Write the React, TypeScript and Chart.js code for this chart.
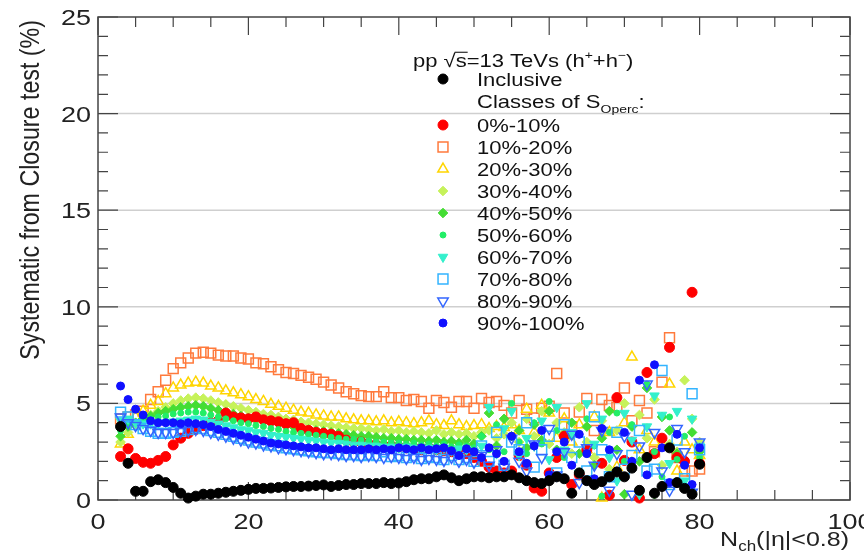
import React, { useEffect, useRef } from "react";
import { Chart, registerables } from "chart.js";

Chart.register(...registerables);

const W = 864;
const H = 554;
const FONT = '"Liberation Sans", Arial, Helvetica, sans-serif';
const SQ = 0.83; // vertical squash of text, as in the reference

// N_ch values (x)
const nch = [
  3, 4, 5, 6, 7, 8, 9, 10, 11, 12,
  13, 14, 15, 16, 17, 18, 19, 20, 21, 22,
  23, 24, 25, 26, 27, 28, 29, 30, 31, 32,
  33, 34, 35, 36, 37, 38, 39, 40, 41, 42,
  43, 44, 45, 46, 47, 48, 49, 50, 51, 52,
  53, 54, 55, 56, 57, 58, 59, 60, 61, 62,
  63, 64, 65, 66, 67, 68, 69, 70, 71, 72,
  73, 74, 75, 76, 77, 78, 79, 80,
];

const inclusive = [
  3.8, 1.9, 0.45, 0.45, 0.95, 1.05, 0.9, 0.65, 0.35, 0.1,
  0.2, 0.3, 0.3, 0.35, 0.4, 0.45, 0.5, 0.55, 0.6, 0.6,
  0.62, 0.65, 0.68, 0.7, 0.7, 0.72, 0.75, 0.78, 0.7, 0.75,
  0.8, 0.8, 0.85, 0.85, 0.85, 0.9, 0.85, 0.88, 0.95, 1.05,
  1.1, 1.1, 1.2, 1.3, 1.15, 1.0, 1.1, 1.2, 1.2, 1.15,
  1.2, 1.2, 1.3, 1.15, 1.0, 0.9, 0.85, 1.0, 1.2, 1.1,
  0.35, 1.4, 1.0, 0.8, 0.95, 1.2, 1.45, 1.2, 1.65, 0.5,
  2.2, 0.35, 0.7, 2.7, 0.9, 0.6, 0.3, 1.85,
];

const cls0to10 = [
  2.25, 2.65, 2.15, 1.95, 1.9, 2.05, 2.25, 2.85, 3.2, 3.45,
  3.65, 3.85, 4.0, 4.1, 4.5, 4.3, 4.25, 4.2, 4.3, 4.15,
  4.1, 4.05, 3.95, 4.0, 3.7, 3.6, 3.5, 3.45, 3.4, 3.3,
  3.1, 3.0, 3.0, 2.9, 2.85, 2.8, 2.8, 2.75, 2.7, 2.7,
  2.6, 2.7, 2.6, 2.55, 2.5, 2.6, 2.4, 2.2, 2.0, 1.7,
  1.5, 1.4, 1.5, 2.3, 1.8, 0.62, 0.45, 1.4, 2.2, 3.3,
  0.8, 1.3, 2.6, 0.9, 1.9, 0.25, 5.3, 2.05, 3.0, 0.1,
  6.6, 2.4, 3.2, 7.9, 2.2, 2.0, 10.75, 1.9,
];

const cls10to20 = [
  4.2, 4.3, 4.4, 4.6, 5.2, 5.6, 6.2, 6.8, 7.1, 7.35,
  7.6, 7.65, 7.6, 7.5, 7.45, 7.45, 7.35, 7.3, 7.1, 7.05,
  6.9, 6.75, 6.6, 6.55, 6.45, 6.35, 6.25, 6.1, 5.95, 5.8,
  5.6, 5.5, 5.4, 5.35, 5.35, 5.6, 5.3, 5.3, 5.15, 5.2,
  5.1, 4.75, 5.15, 5.05, 4.8, 5.1, 5.1, 4.75, 5.25, 5.05,
  5.1, 4.9, 4.5, 5.15, 4.7, 4.25, 4.75, 4.85, 6.55, 4.5,
  3.8, 4.55, 5.25, 3.6, 5.2, 4.9, 4.8, 5.8, 4.1, 5.15,
  4.5, 2.5, 6.1, 8.4, 2.2, 1.5, 1.5, 1.6,
];

const cls20to30 = [
  2.9, 3.4, 4.3, 4.6, 4.9, 5.1, 5.5, 5.8, 5.95, 6.05,
  6.1, 6.05, 5.9, 5.8, 5.65, 5.55, 5.45, 5.35, 5.2, 5.1,
  4.95, 4.85, 4.75, 4.65, 4.55, 4.5, 4.4, 4.35, 4.3, 4.3,
  4.2, 4.15, 4.1, 4.1, 4.05, 4.1, 4.0, 4.05, 4.0, 3.95,
  4.0, 4.1, 3.9, 3.85, 4.1, 3.9, 3.8, 3.85, 3.9, 3.7,
  3.8, 3.75, 3.9, 3.6, 4.7, 3.5, 4.9, 4.5, 3.2, 4.2,
  3.0, 3.9, 2.6, 4.3, 0.1, 3.5, 1.7, 4.0, 7.4, 2.6,
  3.6, 3.0, 2.9, 6.0, 1.5, 3.0, 2.6, 2.3,
];

const cls30to40 = [
  3.0, 3.5, 3.9, 4.2, 4.4, 4.6, 4.8, 5.0, 5.15, 5.25,
  5.3, 5.25, 5.15, 5.05, 4.95, 4.85, 4.75, 4.65, 4.55, 4.45,
  4.4, 4.3, 4.2, 4.15, 4.05, 4.0, 3.95, 3.9, 3.85, 3.8,
  3.75, 3.7, 3.7, 3.65, 3.6, 3.65, 3.55, 3.6, 3.5, 3.55,
  3.5, 3.45, 3.6, 3.4, 3.5, 3.4, 3.45, 3.3, 3.5, 3.6,
  3.2, 3.4, 4.0, 3.0, 4.2, 3.3, 4.6, 2.9, 4.0, 3.5,
  2.4, 4.8, 3.0, 2.2, 4.1, 1.6, 3.6, 5.0, 2.0, 4.4,
  3.2, 5.2, 1.8, 2.9, 2.5, 6.2, 4.2, 3.0,
];

const cls40to50 = [
  3.3, 3.8, 4.0, 4.2, 4.35, 4.5, 4.6, 4.7, 4.8, 4.85,
  4.9, 4.85, 4.75, 4.65, 4.55, 4.45, 4.35, 4.25, 4.15, 4.1,
  4.0, 3.95, 3.85, 3.8, 3.7, 3.65, 3.6, 3.55, 3.5, 3.45,
  3.4, 3.35, 3.3, 3.3, 3.25, 3.2, 3.2, 3.15, 3.15, 3.1,
  3.1, 3.05, 3.1, 3.0, 3.05, 2.95, 3.1, 2.9, 3.3, 4.5,
  2.8, 4.2, 3.3, 3.6, 2.7, 3.9, 3.1, 4.6, 2.6, 3.4,
  4.0, 2.4, 3.8, 1.8, 3.2, 4.6, 2.6, 0.3, 3.8, 2.0,
  5.8, 0.3, 4.3, 3.6, 2.4, 0.7, 3.5, 2.5,
];

const cls50to60 = [
  3.6, 3.9, 4.0, 4.1, 4.2, 4.3, 4.35, 4.45, 4.5, 4.55,
  4.55, 4.5, 4.4, 4.3, 4.2, 4.1, 4.0, 3.95, 3.85, 3.8,
  3.7, 3.65, 3.55, 3.5, 3.45, 3.4, 3.35, 3.3, 3.25, 3.2,
  3.15, 3.15, 3.1, 3.05, 3.0, 3.0, 2.95, 2.95, 2.9, 2.95,
  2.85, 2.9, 2.8, 2.9, 2.75, 2.85, 2.8, 2.7, 3.3, 2.6,
  3.9, 2.5, 5.0, 3.0, 2.4, 4.0, 2.9, 5.1, 3.6, 2.2,
  3.3, 1.5, 4.2, 2.8, 0.2, 3.5, 4.5, 2.0, 3.9, 0.3,
  6.0, 2.5, 1.2, 4.3, 2.1, 3.3, 0.5, 2.2,
];

const cls60to70 = [
  4.1, 4.2, 4.0, 3.95, 3.95, 3.95, 4.0, 4.05, 4.1, 4.15,
  4.2, 4.15, 4.05, 3.95, 3.85, 3.75, 3.65, 3.6, 3.5, 3.45,
  3.35, 3.3, 3.25, 3.2, 3.15, 3.1, 3.05, 3.0, 2.95, 2.95,
  2.9, 2.85, 2.85, 2.8, 2.8, 2.75, 2.75, 2.7, 2.75, 2.7,
  2.65, 2.7, 2.6, 2.7, 2.55, 2.65, 2.6, 2.5, 2.8, 4.8,
  2.4, 3.7, 4.6, 2.3, 3.2, 2.8, 4.1, 2.1, 4.8, 2.6,
  3.5, 1.4, 5.0, 2.9, 4.2, 2.2, 1.0, 4.5, 3.1, 0.3,
  3.8, 5.4, 4.4, 1.9, 4.6, 1.0, 4.2, 2.8,
];

const cls70to80 = [
  4.55, 4.3, 3.9, 3.7, 3.55, 3.45, 3.45, 3.5, 3.55, 3.65,
  3.75, 3.7, 3.6, 3.5, 3.4, 3.3, 3.2, 3.1, 3.0, 2.95,
  2.85, 2.8, 2.7, 2.65, 2.6, 2.55, 2.5, 2.45, 2.45, 2.4,
  2.35, 2.35, 2.3, 2.35, 2.3, 2.5, 2.25, 2.3, 2.2, 2.3,
  2.15, 2.25, 2.2, 2.1, 2.3, 2.1, 2.2, 2.0, 2.8, 2.0,
  3.5, 1.8, 3.0, 2.6, 4.0, 1.7, 2.6, 3.3, 1.4, 3.9,
  2.2, 3.0, 1.5, 4.3, 2.6, 1.2, 3.5, 1.6, 2.3, 3.6,
  1.5, 1.6, 6.7, 0.8, 3.1, 1.1, 5.5, 2.6,
];

const cls80to90 = [
  4.3, 4.0, 3.85, 3.7, 3.6, 3.5, 3.5, 3.5, 3.55, 3.6,
  3.65, 3.6, 3.5, 3.4, 3.3, 3.2, 3.1, 3.0, 2.95, 2.85,
  2.8, 2.7, 2.65, 2.6, 2.55, 2.5, 2.45, 2.4, 2.4, 2.35,
  2.3, 2.3, 2.25, 2.3, 2.25, 2.2, 2.25, 2.2, 2.15, 2.2,
  2.1, 2.15, 2.1, 2.05, 2.2, 2.0, 2.1, 1.95, 2.3, 1.8,
  2.6, 1.7, 3.2, 2.0, 1.5, 2.9, 2.2, 3.7, 1.3, 2.5,
  3.4, 0.9, 2.7, 1.8, 3.6, 0.5, 2.4, 3.3, 0.3, 2.8,
  6.0, 3.5, 1.5, 0.5, 3.7, 2.5, 0.4, 3.0,
];

const cls90to100 = [
  5.9, 5.2, 4.7, 4.4, 4.1, 4.0, 4.0, 4.0, 3.95, 4.0,
  3.95, 3.9, 3.8, 3.65, 3.55, 3.45, 3.35, 3.25, 3.15, 3.05,
  2.95, 2.9, 2.85, 2.8, 2.75, 2.7, 2.7, 2.65, 2.6, 2.65,
  2.6, 2.6, 2.6, 2.65, 2.6, 2.65, 2.6, 2.7, 2.65, 2.6,
  2.7, 2.6, 2.65, 2.7, 2.55, 2.3, 2.65, 2.5, 2.2, 2.7,
  2.4, 2.0, 3.3, 2.5, 1.9, 2.8, 3.6, 1.3, 2.5, 3.0,
  1.8, 3.4, 2.4, 1.1, 3.7, 2.6, 1.5, 3.5, 2.0, 6.2,
  1.3, 7.0, 2.7, 0.9, 3.4, 1.8, 0.8, 2.7,
];

const xTicks = [0, 20, 40, 60, 80, 100];
const yTicks = [0, 5, 10, 15, 20, 25];
const yGrid = [5, 10, 15, 20];

type Series = {
  label: string;
  values: number[];
  color: string;
  style: "circle" | "rect" | "rectRot" | "triangle";
  filled: boolean;
  radius: number;
  rotation: number;
  layer: number; // smaller = drawn on top
};

const SERIES: Series[] = [
  { label: "Inclusive", values: inclusive, color: "#000000", style: "circle", filled: true, radius: 5, rotation: 0, layer: 0 },
  { label: "0%-10%", values: cls0to10, color: "#ff0000", style: "circle", filled: true, radius: 5, rotation: 0, layer: 6.5 },
  { label: "10%-20%", values: cls10to20, color: "#ff7a3c", style: "rect", filled: false, radius: 7, rotation: 0, layer: 10 },
  { label: "20%-30%", values: cls20to30, color: "#ffd500", style: "triangle", filled: false, radius: 6, rotation: 0, layer: 9 },
  { label: "30%-40%", values: cls30to40, color: "#c6f25a", style: "rectRot", filled: true, radius: 4.8, rotation: 0, layer: 8 },
  { label: "40%-50%", values: cls40to50, color: "#44dd33", style: "rectRot", filled: true, radius: 4.8, rotation: 0, layer: 7 },
  { label: "50%-60%", values: cls50to60, color: "#22ee66", style: "circle", filled: true, radius: 3, rotation: 0, layer: 6 },
  { label: "60%-70%", values: cls60to70, color: "#33f0cc", style: "triangle", filled: true, radius: 5.5, rotation: 180, layer: 5 },
  { label: "70%-80%", values: cls70to80, color: "#33b4ff", style: "rect", filled: false, radius: 7, rotation: 0, layer: 4 },
  { label: "80%-90%", values: cls80to90, color: "#3366ff", style: "triangle", filled: false, radius: 6, rotation: 180, layer: 3 },
  { label: "90%-100%", values: cls90to100, color: "#1010ff", style: "circle", filled: true, radius: 4, rotation: 0, layer: 2 },
];

type Piece = { t: string; size: number; dy?: number; over?: boolean };

function drawRich(ctx: CanvasRenderingContext2D, pieces: Piece[], x: number, y: number, align: "left" | "right" | "center", color = "#111") {
  ctx.save();
  ctx.translate(x, y);
  ctx.scale(1, SQ);
  ctx.textBaseline = "alphabetic";
  ctx.textAlign = "left";
  ctx.fillStyle = color;
  ctx.strokeStyle = color;
  const widths = pieces.map((p) => {
    ctx.font = `${p.size}px ${FONT}`;
    return ctx.measureText(p.t).width;
  });
  const total = widths.reduce((a, b) => a + b, 0);
  let cx = align === "right" ? -total : align === "center" ? -total / 2 : 0;
  pieces.forEach((p, i) => {
    ctx.font = `${p.size}px ${FONT}`;
    const dy = (p.dy || 0) / SQ;
    ctx.fillText(p.t, cx, dy);
    if (p.over) {
      ctx.lineWidth = 1.3;
      ctx.beginPath();
      ctx.moveTo(cx - 1, dy - p.size * 0.78);
      ctx.lineTo(cx + widths[i] + 1, dy - p.size * 0.78);
      ctx.stroke();
    }
    cx += widths[i];
  });
  ctx.restore();
}

function drawMarker(ctx: CanvasRenderingContext2D, s: Series, x: number, y: number) {
  const r = s.radius;
  ctx.save();
  ctx.beginPath();
  if (s.style === "circle") {
    ctx.arc(x, y, r, 0, Math.PI * 2);
  } else if (s.style === "rect") {
    const h = r * Math.SQRT1_2;
    ctx.rect(x - h, y - h, 2 * h, 2 * h);
  } else if (s.style === "rectRot") {
    ctx.moveTo(x, y - r);
    ctx.lineTo(x + r, y);
    ctx.lineTo(x, y + r);
    ctx.lineTo(x - r, y);
    ctx.closePath();
  } else {
    let a = (s.rotation * Math.PI) / 180;
    for (let k = 0; k < 3; k++) {
      const px = x + Math.sin(a) * r;
      const py = y - Math.cos(a) * r;
      if (k === 0) ctx.moveTo(px, py);
      else ctx.lineTo(px, py);
      a += (2 * Math.PI) / 3;
    }
    ctx.closePath();
  }
  if (s.filled) {
    ctx.fillStyle = s.color;
    ctx.fill();
  }
  ctx.strokeStyle = s.color;
  ctx.lineWidth = s.filled ? 1 : 1.5;
  ctx.stroke();
  ctx.restore();
}

const framePlugin = {
  id: "rootFrame",
  beforeDraw(chart: any) {
    const ctx = chart.ctx as CanvasRenderingContext2D;
    ctx.save();
    ctx.fillStyle = "#ffffff";
    ctx.fillRect(0, 0, chart.width, chart.height);
    ctx.restore();
  },
  beforeDatasetsDraw(chart: any) {
    const ctx = chart.ctx as CanvasRenderingContext2D;
    const xs = chart.scales.x;
    const ys = chart.scales.y;
    const { left, right, top, bottom } = chart.chartArea;
    ctx.save();
    // grid lines
    ctx.strokeStyle = "#cfcfcf";
    ctx.lineWidth = 1.5;
    yGrid.forEach((v) => {
      const py = ys.getPixelForValue(v);
      ctx.beginPath();
      ctx.moveTo(left, py);
      ctx.lineTo(right, py);
      ctx.stroke();
    });
    // frame
    ctx.strokeStyle = "#444";
    ctx.lineWidth = 1.5;
    ctx.strokeRect(left, top, right - left, bottom - top);
    // y ticks (every 1, major every 5)
    ctx.lineWidth = 1.2;
    for (let v = 0; v <= 25; v += 1) {
      const py = ys.getPixelForValue(v);
      const len = v % 5 === 0 ? 20 : 10;
      ctx.beginPath();
      ctx.moveTo(left, py);
      ctx.lineTo(left + len, py);
      ctx.moveTo(right, py);
      ctx.lineTo(right - len, py);
      ctx.stroke();
    }
    // x ticks (every 5, major every 20)
    for (let v = 0; v <= 100; v += 5) {
      const px = xs.getPixelForValue(v);
      const len = v % 20 === 0 ? 18 : 10;
      ctx.beginPath();
      ctx.moveTo(px, bottom);
      ctx.lineTo(px, bottom - len);
      ctx.moveTo(px, top);
      ctx.lineTo(px, top + len);
      ctx.stroke();
    }
    // tick labels
    yTicks.forEach((v) => {
      const py = ys.getPixelForValue(v);
      drawRich(ctx, [{ t: String(v), size: 27 }], left - 7, py + 8, "right", "#222");
    });
    xTicks.forEach((v) => {
      const px = xs.getPixelForValue(v);
      drawRich(ctx, [{ t: String(v), size: 27 }], px, bottom + 29, "center", "#222");
    });
    // axis titles
    drawRich(
      ctx,
      [
        { t: "N", size: 25 },
        { t: "ch", size: 17, dy: 5 },
        { t: "(|\u03b7|<0.8)", size: 25 },
      ],
      right - 1,
      bottom + 46,
      "right",
      "#222"
    );
    ctx.save();
    ctx.translate(31, top + 3);
    ctx.rotate(-Math.PI / 2);
    ctx.scale(SQ, 1);
    ctx.font = `28px ${FONT}`;
    ctx.fillStyle = "#222";
    ctx.textAlign = "right";
    ctx.textBaseline = "middle";
    ctx.fillText("Systematic from Closure test (%)", 0, 0);
    ctx.restore();
    ctx.restore();
  },
  afterDatasetsDraw(chart: any) {
    const ctx = chart.ctx as CanvasRenderingContext2D;
    const fs = 22;
    const markX = 443;
    const textX = 477;
    const off = 6.5;
    drawRich(
      ctx,
      [
        { t: "pp ", size: fs },
        { t: "\u221A", size: fs },
        { t: "s", size: fs, over: true },
        { t: "=13 TeVs (h", size: fs },
        { t: "+", size: 14, dy: -8 },
        { t: "+h", size: fs },
        { t: "\u2212", size: 14, dy: -8 },
        { t: ")", size: fs },
      ],
      413,
      60 + off,
      "left"
    );
    drawMarker(ctx, SERIES[0], markX, 79);
    drawRich(ctx, [{ t: SERIES[0].label, size: fs }], textX, 79 + off, "left");
    drawRich(
      ctx,
      [
        { t: "Classes of S", size: fs },
        { t: "Operc", size: 14, dy: 5 },
        { t: ":", size: fs },
      ],
      textX,
      101 + off,
      "left"
    );
    for (let i = 1; i < SERIES.length; i++) {
      const cy = 125 + 22 * (i - 1);
      drawMarker(ctx, SERIES[i], markX, cy);
      drawRich(ctx, [{ t: SERIES[i].label, size: fs }], textX, cy + off, "left");
    }
  },
};

export default function App() {
  const canvasRef = useRef<HTMLCanvasElement | null>(null);

  useEffect(() => {
    document.body.style.margin = "0";
    const canvas = canvasRef.current;
    if (!canvas) return;
    const datasets = SERIES.map((s) => ({
      label: s.label,
      data: s.values.map((v, k) => ({ x: nch[k], y: v })),
      showLine: false,
      pointStyle: s.style,
      pointRadius: s.radius,
      pointRotation: s.rotation,
      pointBackgroundColor: s.filled ? s.color : "rgba(0,0,0,0)",
      pointBorderColor: s.color,
      pointBorderWidth: s.filled ? 1 : 1.5,
      clip: false as any,
      order: s.layer,
    }));
    const chart = new Chart(canvas, {
      type: "scatter",
      data: { datasets },
      options: {
        responsive: false,
        animation: false,
        events: [],
        layout: { padding: { left: 98, right: 14, top: 17, bottom: 54 }, autoPadding: false } as any,
        plugins: { legend: { display: false }, tooltip: { enabled: false } },
        scales: {
          x: { type: "linear", min: 0, max: 100, display: false },
          y: { type: "linear", min: 0, max: 25, display: false },
        },
      },
      plugins: [framePlugin],
    });
    return () => chart.destroy();
  }, []);

  return (
    <div style={{ position: "fixed", left: 0, top: 0, width: W, height: H, background: "#fff" }}>
      <canvas ref={canvasRef} width={W} height={H} style={{ width: W, height: H, display: "block" }} />
    </div>
  );
}
